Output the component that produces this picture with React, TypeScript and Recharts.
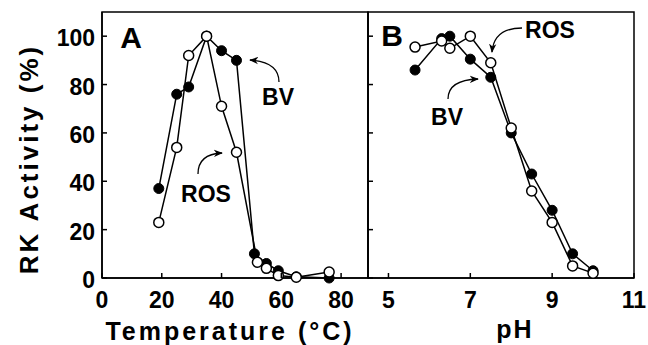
import React from 'react';
import { LineChart, Line, XAxis, YAxis, ReferenceArea } from 'recharts';

// Temperature panel (A)
const tempBV = [19, 25, 29, 35, 40, 45, 51, 55, 59, 65, 76];
const actTempBV = [37, 76, 79, 100, 94, 90, 10, 6, 3, 0.5, 0];
const tempROS = [19, 25, 29, 35, 40, 45, 52, 55, 59, 65, 76];
const actTempROS = [23, 54, 92, 100, 71, 52, 6.5, 4, 1, 0.3, 2.5];

// pH panel (B)
const phBV = [5.65, 6.3, 6.5, 7, 7.5, 8, 8.5, 9, 9.5, 10];
const actPhBV = [86, 99, 100, 90.5, 83, 60, 43, 28, 10, 3];
const phROS = [5.65, 6.3, 6.5, 7, 7.5, 8, 8.5, 9, 9.5, 10];
const actPhROS = [95.5, 98, 95, 100, 89, 62, 36, 23, 5, 2];

const tempTicks = [0, 20, 40, 60, 80];
const phTicks = [5, 7, 9, 11];
const activityTicks = [0, 20, 40, 60, 80, 100];

const FONT = '"Liberation Sans", Arial, Helvetica, sans-serif';

const toRows = (xs: number[], ys: number[]) => xs.map((x, i) => ({ x, y: ys[i] }));

const filledDot = { r: 5, fill: '#000', stroke: '#000', strokeWidth: 1 };
const openDot = { r: 5, fill: '#fff', stroke: '#000', strokeWidth: 1.5 };

// inward tick + label below
function XTick({ x, y, payload }: any) {
  return (
    <g>
      <line x1={x} y1={y} x2={x} y2={y - 5} stroke="#000" strokeWidth={1.5} />
      <text x={x} y={y + 30} textAnchor="middle" fontSize={23} fontWeight="bold" fontFamily={FONT} fill="#000">
        {payload.value}
      </text>
    </g>
  );
}

function makeYTick(showLabel: boolean) {
  return function YTick({ x, y, payload }: any) {
    return (
      <g>
        <line x1={x} y1={y} x2={x + 5} y2={y} stroke="#000" strokeWidth={1.5} />
        {showLabel && (
          <text x={x - 7} y={y + 10} textAnchor="end" fontSize={23} fontWeight="bold" fontFamily={FONT} fill="#000">
            {payload.value}
          </text>
        )}
      </g>
    );
  };
}

function Panel({
  width, domain, ticks, bv, ros, yAxisWidth, marginRight, showYLabels,
}: {
  width: number; domain: [number, number]; ticks: number[];
  bv: { x: number; y: number }[]; ros: { x: number; y: number }[];
  yAxisWidth: number; marginRight: number; showYLabels: boolean;
}) {
  return (
    <LineChart width={width} height={345} margin={{ top: 12, right: marginRight, left: 0, bottom: 0 }}>
      <XAxis
        dataKey="x"
        type="number"
        domain={domain}
        ticks={ticks}
        allowDataOverflow
        height={67}
        axisLine={{ stroke: '#000', strokeWidth: 1.5 }}
        tickLine={false}
        tickSize={0}
        tickMargin={0}
        tick={<XTick />}
        interval={0}
      />
      <YAxis
        type="number"
        domain={[0, 110]}
        ticks={activityTicks}
        width={yAxisWidth}
        axisLine={{ stroke: '#000', strokeWidth: 1.5 }}
        tickLine={false}
        tickSize={0}
        tickMargin={0}
        tick={makeYTick(showYLabels)}
        interval={0}
      />
      <ReferenceArea x1={domain[0]} x2={domain[1]} y1={0} y2={110} fill="none" stroke="#000" strokeWidth={1.5} />
      <Line data={bv} dataKey="y" stroke="#000" strokeWidth={1.5} dot={filledDot} isAnimationActive={false} />
      <Line data={ros} dataKey="y" stroke="#000" strokeWidth={1.5} dot={openDot} isAnimationActive={false} />
    </LineChart>
  );
}

const textStyle = { fontFamily: FONT, fontWeight: 'bold' as const, fill: '#000' };

export default function App() {
  return (
    <div style={{ position: 'absolute', left: 0, top: 0, width: 648, height: 345, background: '#fff' }}>
      <div style={{ position: 'absolute', left: 0, top: 0 }}>
        <Panel
          width={369}
          domain={[0, 89]}
          ticks={tempTicks}
          bv={toRows(tempBV, actTempBV)}
          ros={toRows(tempROS, actTempROS)}
          yAxisWidth={102}
          marginRight={1}
          showYLabels
        />
      </div>
      <div style={{ position: 'absolute', left: 348, top: 0 }}>
        <Panel
          width={300}
          domain={[4.5, 11]}
          ticks={phTicks}
          bv={toRows(phBV, actPhBV)}
          ros={toRows(phROS, actPhROS)}
          yAxisWidth={20}
          marginRight={14}
          showYLabels={false}
        />
      </div>
      <svg width={648} height={345} style={{ position: 'absolute', left: 0, top: 0, pointerEvents: 'none' }}>
        <defs>
          <marker id="head" viewBox="0 0 10 10" refX="9" refY="5" markerWidth="7" markerHeight="7" orient="auto">
            <path d="M0,1 L10,5 L0,9 L3,5 Z" fill="#000" />
          </marker>
        </defs>
        <text transform="translate(38,159) rotate(-90)" textAnchor="middle" fontSize={26} letterSpacing={3} {...textStyle}>
          RK Activity (%)
        </text>
        <text x={230} y={340} textAnchor="middle" fontSize={25} letterSpacing={3} {...textStyle}>
          Temperature (°C)
        </text>
        <text x={515} y={338} textAnchor="middle" fontSize={25} letterSpacing={2} {...textStyle}>
          pH
        </text>
        <text x={131} y={48} textAnchor="middle" fontSize={30} {...textStyle}>A</text>
        <text x={392} y={46} textAnchor="middle" fontSize={30} {...textStyle}>B</text>
        <text x={278} y={105} textAnchor="middle" fontSize={23} {...textStyle}>BV</text>
        <text x={206} y={202} textAnchor="middle" fontSize={23} {...textStyle}>ROS</text>
        <text x={550} y={38} textAnchor="middle" fontSize={23} {...textStyle}>ROS</text>
        <text x={447} y={125} textAnchor="middle" fontSize={23} {...textStyle}>BV</text>
        <path d="M279,82 Q279,62 250,60" fill="none" stroke="#000" strokeWidth={1.3} markerEnd="url(#head)" />
        <path d="M198,174 Q198,154 222,153" fill="none" stroke="#000" strokeWidth={1.3} markerEnd="url(#head)" />
        <path d="M522,28 Q494,28 492,52" fill="none" stroke="#000" strokeWidth={1.3} markerEnd="url(#head)" />
        <path d="M448,99 Q448,80 478,79" fill="none" stroke="#000" strokeWidth={1.3} markerEnd="url(#head)" />
      </svg>
    </div>
  );
}
